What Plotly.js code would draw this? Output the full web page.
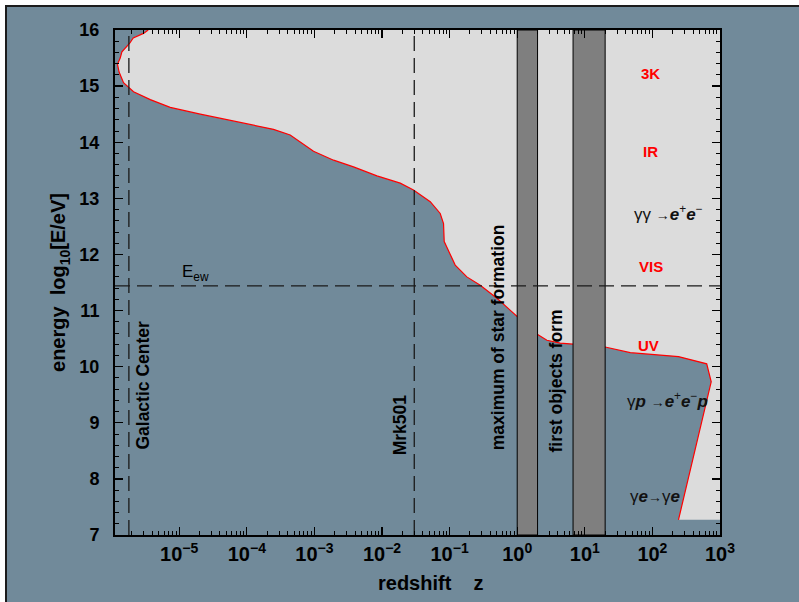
<!DOCTYPE html>
<html>
<head>
<meta charset="utf-8">
<script src="https://cdn.plot.ly/plotly-3.0.1.min.js"></script>
<style>
  html, body { margin: 0; padding: 0; background: #ffffff; overflow: hidden; width: 799px; height: 602px; }
  #frame {
    position: absolute; left: 5px; top: 5px; width: 820px; height: 620px;
    box-sizing: border-box; background: #718a9a;
    border-left: 2px solid #1c1c1c; border-top: 2px solid #1c1c1c;
  }
  #chart { position: absolute; left: 7px; top: 7px; width: 792px; height: 595px; }
</style>
</head>
<body>
<div id="frame"></div>
<div id="chart"></div>
<script>
// Horizon of the universe for gamma rays: boundary (red) between transparent and opaque regions
const curveZ = [3.48e-6, 2.96e-6, 2.09e-6, 1.84e-6, 1.42e-6, 1.34e-6, 1.22e-6, 1.29e-6, 1.50e-6, 1.76e-6,
                2.11e-6, 3.73e-6, 7.36e-6, 2.05e-5, 6.36e-5, 1.12e-4, 2.48e-4, 4.38e-4, 6.17e-4, 9.70e-4,
                1.92e-3, 3.79e-3, 8.41e-3, 0.0186, 0.0292, 0.0517, 0.0726, 0.0813, 0.0832, 0.121,
                0.180, 0.284, 0.501, 0.788, 1.0, 1.9, 2.75, 4.32, 6.7, 20,
                47, 243, 636, 741, 243];
const curveE = [16.0, 15.94, 15.86, 15.76, 15.61, 15.50, 15.39, 15.25, 15.06, 14.98,
                14.90, 14.76, 14.62, 14.50, 14.38, 14.32, 14.23, 14.13, 14.01, 13.84,
                13.68, 13.56, 13.40, 13.27, 13.15, 12.94, 12.73, 12.55, 12.23, 11.81,
                11.60, 11.45, 11.22, 11.01, 10.89, 10.59, 10.47, 10.42, 10.40, 10.35,
                10.25, 10.18, 10.05, 9.73, 7.27];
// lower edge of the transparent window at the highest redshifts
const floorE = 7.27;

// epochs (redshift bands)
const starFormationZ = [1, 2];
const firstObjectsZ = [6.7, 20];

// reference markers
const galacticCenterZ = 1.8e-6;
const mrk501Z = 0.03;
const electroweakE = 11.44;

// axes
const logZRange = [-5.95, 3];
const energyRange = [7, 16];
const xTickVals = [1e-5, 1e-4, 1e-3, 1e-2, 1e-1, 1e0, 1e1, 1e2, 1e3];
const xTickText = ['10<sup>−5</sup>', '10<sup>−4</sup>', '10<sup>−3</sup>', '10<sup>−2</sup>',
                   '10<sup>−1</sup>', '10<sup>0</sup>', '10<sup>1</sup>', '10<sup>2</sup>', '10<sup>3</sup>'];

const zMin = Math.pow(10, logZRange[0]);
const zMax = Math.pow(10, logZRange[1]);

// minor ticks 2..9 in every decade
const xMinor = [];
for (let d = -7; d <= 3; d++) {
  for (let m = 2; m <= 9; m++) {
    const v = m * Math.pow(10, d);
    if (v > zMin && v < zMax) xMinor.push(v);
  }
}

const FONT = 'Liberation Sans, Arial, Helvetica, sans-serif';

// transparent region: above the boundary curve, closed along the floor, right and top frame
const fillX = curveZ.concat([zMax * 1.5, zMax * 1.5, curveZ[0]]);
const fillY = curveE.concat([floorE, energyRange[1] + 0.5, energyRange[1] + 0.5]);

function band(zs) {
  return {
    x: [zs[0], zs[1], zs[1], zs[0], zs[0]],
    y: [energyRange[0], energyRange[0], energyRange[1], energyRange[1], energyRange[0]],
    mode: 'lines', fill: 'toself', fillcolor: '#7f7f7f',
    line: {color: '#000000', width: 1}, hoverinfo: 'skip', showlegend: false
  };
}

const dashStyle = {color: '#1a1a1a', width: 1.3, dash: '15px,7px'};

const traces = [
  {x: fillX, y: fillY, mode: 'lines', fill: 'toself', fillcolor: '#dcdcdc',
   line: {width: 0, color: 'rgba(0,0,0,0)'}, hoverinfo: 'skip', showlegend: false},
  {x: curveZ, y: curveE, mode: 'lines', line: {color: '#ff0000', width: 1.2},
   hoverinfo: 'skip', showlegend: false},
  band(starFormationZ),
  band(firstObjectsZ),
  {x: [galacticCenterZ, galacticCenterZ], y: energyRange, mode: 'lines', line: dashStyle, showlegend: false},
  {x: [mrk501Z, mrk501Z], y: energyRange, mode: 'lines', line: dashStyle, showlegend: false},
  {x: [zMin, zMax], y: [electroweakE, electroweakE], mode: 'lines', line: dashStyle, showlegend: false}
];

function label(lz, e, text, opts) {
  return Object.assign({
    x: lz, y: e, xref: 'x', yref: 'y', text: text, showarrow: false,
    font: {family: FONT, size: 17.5, color: '#000000', weight: 'bold'},
    xanchor: 'center', yanchor: 'middle'
  }, opts || {});
}
const red = {family: FONT, size: 15, color: '#ff0000', weight: 'bold'};
const formula = {family: FONT, size: 17, color: '#111111'};
const arrow = '<span style="font-size:14px">→</span>';

const annotations = [
  label(-5.53, 9.67, 'Galactic Center', {textangle: -90}),
  label(-1.73, 8.96, 'Mrk501', {textangle: -90}),
  label(-0.28, 10.53, 'maximum of star formation', {textangle: -90}),
  label(0.577, 9.74, 'first objects form', {textangle: -90}),
  label(-4.76, 11.67, 'E<sub>ew</sub>', {font: {family: FONT, size: 17, color: '#000000'}}),
  label(1.967, 15.22, '3K', {font: red}),
  label(1.967, 13.83, 'IR', {font: red}),
  label(1.982, 11.78, 'VIS', {font: red}),
  label(1.938, 10.37, 'UV', {font: red}),
  label(2.234, 12.74, 'γγ ' + arrow + '<b><i>e</i></b><sup>+</sup><b><i>e</i></b><sup>−</sup>', {font: formula}),
  label(2.219, 9.40, 'γ<b><i>p</i></b> ' + arrow + '<b><i>e</i></b><sup>+</sup><b><i>e</i></b><sup>−</sup><b><i>p</i></b>', {font: formula}),
  label(2.041, 7.68, 'γ<b><i>e</i></b>' + arrow + 'γ<b><i>e</i></b>', {font: formula}),
  // horizontal axis title
  {x: 0.522, y: -0.095, xref: 'paper', yref: 'paper', showarrow: false,
   xanchor: 'center', yanchor: 'middle',
   text: 'redshift\u00a0\u00a0\u00a0\u00a0z',
   font: {family: FONT, size: 20, color: '#000000', weight: 'bold'}}
];

const layout = {
  width: 792, height: 595,
  margin: {l: 108, r: 79, t: 23, b: 67},
  paper_bgcolor: 'rgba(0,0,0,0)',
  plot_bgcolor: '#718a9a',
  showlegend: false,
  xaxis: {
    type: 'log', range: logZRange, autorange: false,
    tickmode: 'array', tickvals: xTickVals, ticktext: xTickText,
    ticks: 'inside', ticklen: 8, tickwidth: 1.3, tickcolor: '#000000',
    showline: true, linecolor: '#000000', linewidth: 2, mirror: 'ticks',
    showgrid: false, zeroline: false,
    tickfont: {family: FONT, size: 20, color: '#000000', weight: 'bold'},
    minor: {tickmode: 'array', tickvals: xMinor, ticks: 'inside', ticklen: 4,
            tickwidth: 1, tickcolor: '#000000', showgrid: false}
  },
  yaxis: {
    range: energyRange, autorange: false, tick0: 7, dtick: 1,
    ticks: 'inside', ticklen: 8, tickwidth: 1.3, tickcolor: '#000000',
    showline: true, linecolor: '#000000', linewidth: 2, mirror: 'ticks',
    showgrid: false, zeroline: false, ticklabelstandoff: 10,
    tickfont: {family: FONT, size: 18, color: '#000000', weight: 'bold'},
    minor: {dtick: 0.2, ticks: 'inside', ticklen: 4, tickwidth: 1,
            tickcolor: '#000000', showgrid: false},
    title: {text: 'energy\u00a0\u00a0log<sub>10</sub>[E/eV]', standoff: 8,
            font: {family: FONT, size: 20, color: '#000000', weight: 'bold'}}
  },
  annotations: annotations
};

Plotly.newPlot('chart', traces, layout, {displayModeBar: false, staticPlot: true});
</script>
</body>
</html>
